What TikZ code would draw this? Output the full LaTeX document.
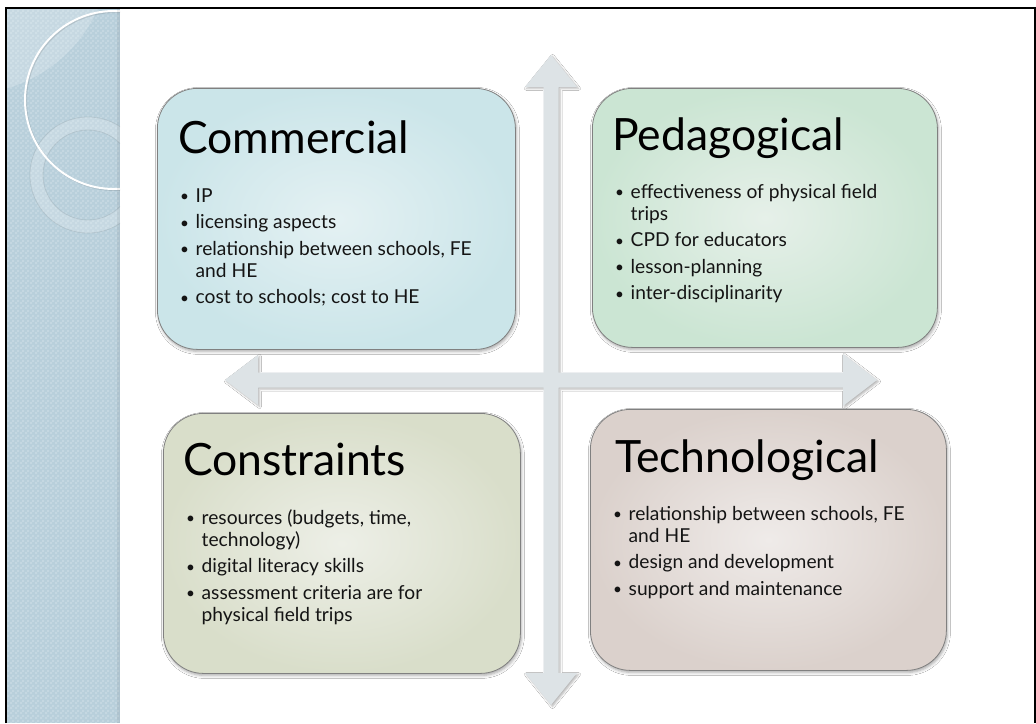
\documentclass[tikz,border=0pt]{standalone}
\usepackage{fontspec}
\setmainfont{Lato}
\usetikzlibrary{shadows,shadows.blur,patterns}

% colours
\definecolor{stripblue}{RGB}{184,207,219}
\definecolor{arrowfill}{RGB}{221,227,230}
\definecolor{comIn}{RGB}{228,241,243}
\definecolor{comOut}{RGB}{203,229,233}
\definecolor{pedIn}{RGB}{230,240,233}
\definecolor{pedOut}{RGB}{203,229,211}
\definecolor{conIn}{RGB}{237,239,231}
\definecolor{conOut}{RGB}{217,222,202}
\definecolor{tecIn}{RGB}{239,235,233}
\definecolor{tecOut}{RGB}{219,209,204}
\definecolor{boxline}{RGB}{128,128,128}
\definecolor{bodytext}{RGB}{20,20,20}

% fine checker texture for the side strip
\pgfdeclarepatternformonly{finechecker}{\pgfpointorigin}{\pgfqpoint{5pt}{5pt}}{\pgfqpoint{5pt}{5pt}}{%
  \pgfpathrectangle{\pgfpointorigin}{\pgfqpoint{2.5pt}{2.5pt}}%
  \pgfpathrectangle{\pgfqpoint{2.5pt}{2.5pt}}{\pgfqpoint{2.5pt}{2.5pt}}%
  \pgfusepath{fill}}

\newcommand\bul{\makebox[15.5pt][l]{\raisebox{0.5pt}{\scalebox{0.8}{•}}}}

\tikzset{
  quad/.style={draw=boxline, line width=0.8pt, rounded corners=40pt,
    anchor=north west, inner sep=0pt,
    blur shadow={shadow xshift=1pt, shadow yshift=-2pt, shadow blur radius=3pt, shadow opacity=35}},
  heading/.style={anchor=base west, inner sep=0pt, text=black,
    font=\fontsize{44.5}{50}\selectfont},
  bullets/.style={anchor=base west, inner sep=0pt, text=bodytext,
    font=\fontsize{19.2}{22}\selectfont},
  crossarrow/.style={fill=arrowfill,
    blur shadow={shadow xshift=1.5pt, shadow yshift=-1.5pt, shadow blur radius=2pt, shadow opacity=30}},
}

\begin{document}
\begin{tikzpicture}[x=1pt,y=-1pt]
\useasboundingbox (0,0) rectangle (1036,723);
\fill[white] (0,0) rectangle (1036,723);

% side strip with its circles
\fill[stripblue] (7,8) rectangle (120,723);
\fill[pattern=finechecker, pattern color=white, opacity=0.18] (7,8) rectangle (120,723);
\begin{scope}
  \clip (7,8) rectangle (120,723);
  \fill[white, opacity=0.2] (-33,-49) circle (143);
  \fill[white, opacity=0.2, even odd rule] (88,175) circle (58) (88,175) circle (45);
  \draw[black, opacity=0.08, line width=0.8pt] (88,175) circle (58) (88,175) circle (45);
  \draw[black, opacity=0.10, line width=2pt] (115,101) circle (89);
  \draw[white, line width=2pt] (114,100) circle (89);
  \fill[black, opacity=0.06] (117,8) rectangle (120,723);
\end{scope}

% frame
\draw[line width=1.5pt] (6,723) -- (6,8) -- (1035,8) -- (1035,723);

% the four-way arrow
\coordinate (up) at (551,55);
\coordinate (down) at (551,705);
\coordinate (left) at (225,380);
\coordinate (right) at (877,380);
\path[crossarrow] (up) -- (577,87) -- (558.5,87) -- (558.5,372.5) -- (843,372.5)
  -- (843,354) -- (right) -- (843,406) -- (843,387.5) -- (558.5,387.5)
  -- (558.5,673) -- (577,673) -- (down) -- (525,673) -- (543.5,673)
  -- (543.5,387.5) -- (258,387.5) -- (258,405) -- (left) -- (258,355)
  -- (258,372.5) -- (543.5,372.5) -- (543.5,87) -- (525,87) -- cycle;

% quadrants
\node[quad, inner color=comIn, outer color=comOut, minimum width=358pt, minimum height=261pt] (com) at (157,88) {};
\node[quad, inner color=pedIn, outer color=pedOut, minimum width=345pt, minimum height=259pt] (ped) at (592,88) {};
\node[quad, inner color=conIn, outer color=conOut, minimum width=357pt, minimum height=260pt] (con) at (163,413) {};
\node[quad, inner color=tecIn, outer color=tecOut, minimum width=356pt, minimum height=261pt] (tec) at (590,409) {};

\node[heading] (comT) at (178,153) {Commercial};
\node[heading] (pedT) at (612,150) {Pedagogical};
\node[heading] (conT) at (183,475) {Constraints};
\node[heading] (tecT) at (615,472) {Technological};

\node[bullets] (comB) at (180,202) {\begin{tabular}[t]{@{}l@{}l@{}}
\bul & IP\\[4.5pt]
\bul & licensing aspects\\[4.5pt]
\bul & relationship between schools, FE\\
     & and HE\\[4.5pt]
\bul & cost to schools; cost to HE
\end{tabular}};

\node[bullets] (pedB) at (615,198) {\begin{tabular}[t]{@{}l@{}l@{}}
\bul & effectiveness of physical field\\
     & trips\\[4.5pt]
\bul & CPD for educators\\[4.5pt]
\bul & lesson-planning\\[4.5pt]
\bul & inter-disciplinarity
\end{tabular}};

\node[bullets] (conB) at (186,524) {\begin{tabular}[t]{@{}l@{}l@{}}
\bul & resources (budgets, time,\\
     & technology)\\[4.5pt]
\bul & digital literacy skills\\[4.5pt]
\bul & assessment criteria are for\\
     & physical field trips
\end{tabular}};

\node[bullets] (tecB) at (613,520) {\begin{tabular}[t]{@{}l@{}l@{}}
\bul & relationship between schools, FE\\
     & and HE\\[4.5pt]
\bul & design and development\\[4.5pt]
\bul & support and maintenance
\end{tabular}};
\end{tikzpicture}
\end{document}
